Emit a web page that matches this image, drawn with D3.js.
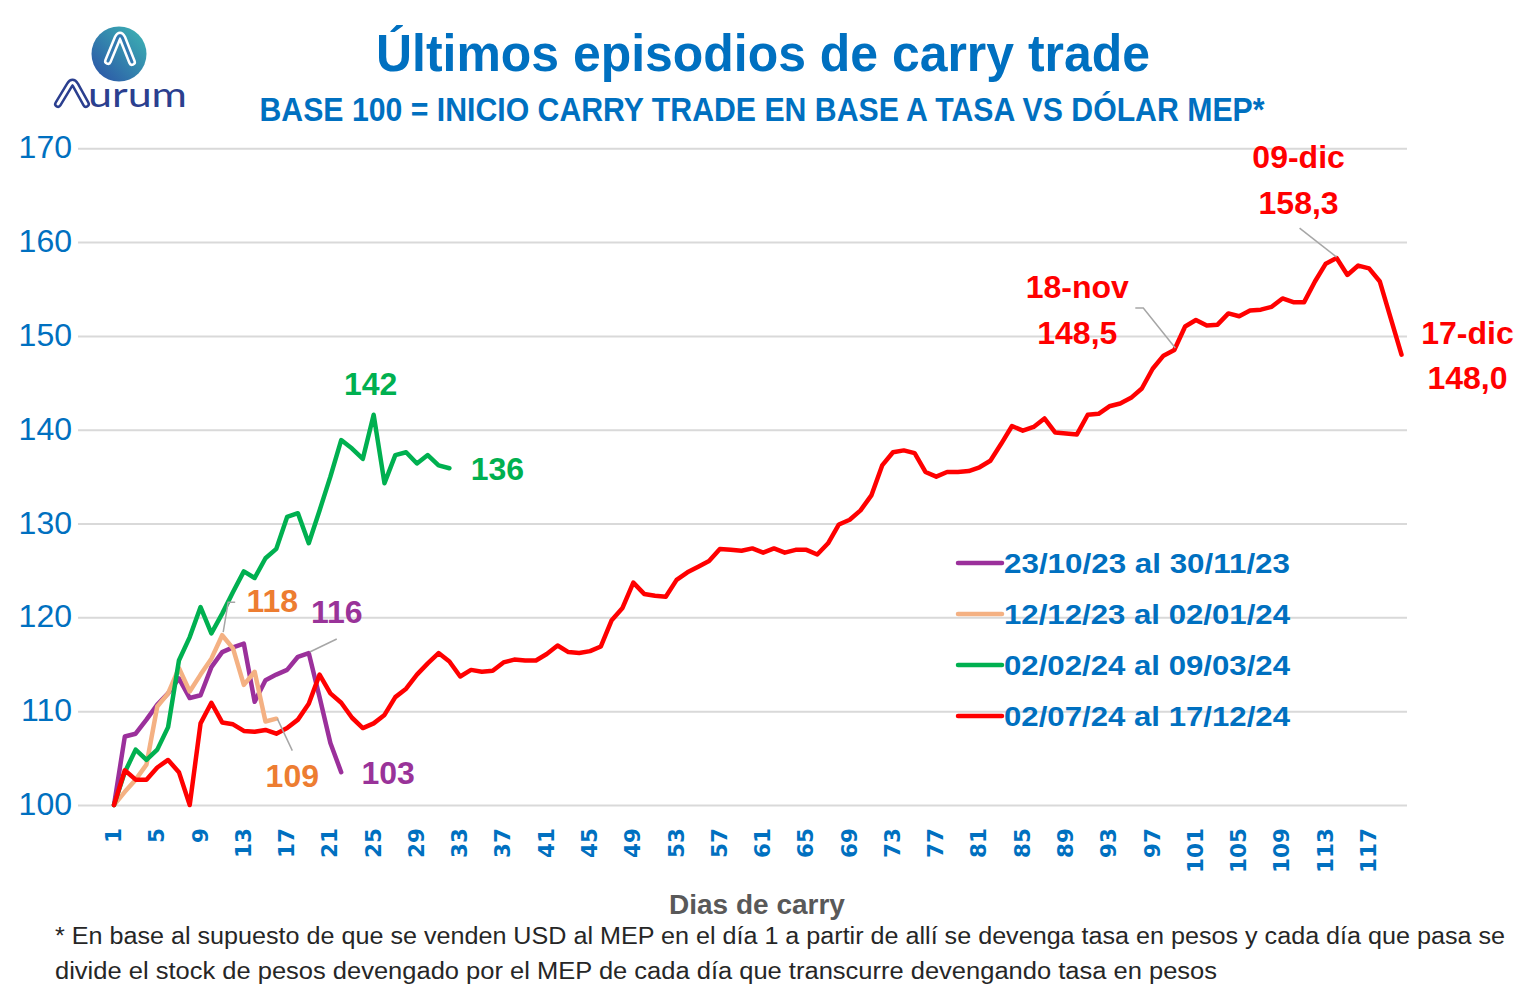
<!DOCTYPE html>
<html><head><meta charset="utf-8">
<script src="https://cdn.jsdelivr.net/npm/d3@7"></script>
<style>
body{margin:0;background:#fff}
svg{display:block}
text{font-family:"Liberation Sans",Arial,sans-serif}
</style>
</head><body>
<svg id="c" width="1526" height="999"></svg>
<script>
// ---------- DATA ----------
const seriesNames = ["23/10/23 al 30/11/23","12/12/23 al 02/01/24","02/02/24 al 09/03/24","02/07/24 al 17/12/24"];
const purpleVals = [100,107.3,107.6,109.1,110.7,111.9,113.5,111.4,111.7,114.7,116.3,116.8,117.2,111.0,113.3,113.9,114.4,115.8,116.2,111.5,106.6,103.5];
const orangeVals = [100,101.4,102.7,104.3,110.5,111.9,114.6,112.1,113.9,115.6,118.1,116.7,112.8,114.2,108.9,109.2];
const greenVals  = [100,103.5,105.9,104.8,105.9,108.3,115.4,117.9,121.1,118.3,120.4,122.7,124.9,124.2,126.3,127.3,130.7,131.1,127.9,131.4,135.0,138.9,138.0,136.9,141.6,134.3,137.3,137.6,136.4,137.3,136.2,135.9];
const redVals = [100,103.7,102.7,102.7,104.0,104.8,103.5,100.0,108.7,110.9,
  108.8,108.6,107.9,107.8,108.0,107.6,108.2,109.1,110.8,113.9,
  111.9,110.9,109.3,108.2,108.7,109.6,111.5,112.4,113.9,115.1,
  116.2,115.3,113.7,114.4,114.2,114.3,115.2,115.5,115.4,115.4,
  116.1,117.0,116.3,116.2,116.4,116.9,119.7,121.0,123.7,122.5,
  122.3,122.2,124.0,124.8,125.4,126.0,127.3,127.2,127.1,127.35,
  126.9,127.35,126.9,127.2,127.2,126.7,127.9,129.9,130.4,131.4,
  133.0,136.2,137.6,137.8,137.5,135.5,135.0,135.5,135.5,135.6,
  136.0,136.7,138.5,140.4,139.9,140.3,141.2,139.7,139.6,139.5,
  141.6,141.7,142.5,142.8,143.4,144.4,146.5,147.9,148.5,151.0,
  151.7,151.1,151.2,152.4,152.1,152.7,152.8,153.1,154.0,153.6,
  153.6,155.8,157.7,158.3,156.5,157.5,157.2,155.8,151.9,148.0];
const yTicks = [100,110,120,130,140,150,160,170];
const xTicks = [1,5,9,13,17,21,25,29,33,37,41,45,49,53,57,61,65,69,73,77,81,85,89,93,97,101,105,109,113,117];
const titleText = "Últimos episodios de carry trade";
const subtitleText = "BASE 100 = INICIO CARRY TRADE EN BASE A TASA VS DÓLAR MEP*";
const xAxisTitle = "Dias de carry";
const footLines = ["* En base al supuesto de que se venden USD al MEP en el día 1 a partir de allí se devenga tasa en pesos y cada día que pasa se",
  "divide el stock de pesos devengado por el MEP de cada día que transcurre devengando tasa en pesos"];

// annotation texts tied to data points (series index, day)
const annoTexts = [
  {s:2, day:25, lines:["142"]},
  {s:2, day:32, lines:["136"]},
  {s:1, day:11, lines:["118"]},
  {s:0, day:19, lines:["116"]},
  {s:1, day:16, lines:["109"]},
  {s:0, day:22, lines:["103"]},
  {s:3, day:99, lines:["18-nov","148,5"]},
  {s:3, day:114, lines:["09-dic","158,3"]},
  {s:3, day:120, lines:["17-dic","148,0"]}
];

// ---------- STYLE / LAYOUT ----------
const lineColors = ["#9B309B","#F4B183","#00B050","#FF0000"];
const labelColors = ["#993399","#ED7D31","#00B050","#FF0000"];
const blue = "#0070C0";
const allSeries = [purpleVals, orangeVals, greenVals, redVals];
const annoLayout = [
  {dx:-3, dy:[-31], leader:null},
  {dx:48, dy:[1], leader:null},
  {dx:50, dy:[-34], leader:[[1,-3],[6,-33],[13,-33]]},
  {dx:28, dy:[-41], leader:[[1,-1],[28,-14]]},
  {dx:16, dy:[57], leader:[[1,0],[16,32]]},
  {dx:47, dy:[1], leader:null},
  {dx:-97, dy:[-63,-17], leader:[[1,-2],[-31,-42],[-39,-42]]},
  {dx:-38, dy:[-101,-55], leader:[[0,-1],[-37,-30]]},
  {dx:66, dy:[-22,23], leader:null}
];

const svg = d3.select("#c");
const gridLeft = 78, gridRight = 1407;
const x = d3.scaleLinear().domain([1,120]).range([114,1401.5]);
const y = d3.scaleLinear().domain([100,170]).range([805,148.3]);

// ---------- LOGO ----------
const defs = svg.append("defs");
const lg = defs.append("linearGradient").attr("id","lg").attr("x1","0").attr("y1","1").attr("x2","1").attr("y2","0");
lg.append("stop").attr("offset","0%").attr("stop-color","#2A4FA6");
lg.append("stop").attr("offset","100%").attr("stop-color","#3DB8B4");
svg.append("circle").attr("cx",119).attr("cy",54).attr("r",27.5).attr("fill","url(#lg)");
const lam = "M108,61 L117.5,38 Q120,33 122.5,38 L132,62";
svg.append("path").attr("d",lam).attr("fill","none").attr("stroke","#fff").attr("stroke-width",8).attr("stroke-linecap","round").attr("stroke-linejoin","round");
svg.append("path").attr("d",lam).attr("fill","none").attr("stroke","#3178B0").attr("stroke-width",3).attr("stroke-linecap","round").attr("stroke-linejoin","round");
const lamA = "M58,104 L69.5,85 Q72.5,80 75.5,85 L86,104";
svg.append("path").attr("d",lamA).attr("fill","none").attr("stroke","#2B3F8F").attr("stroke-width",8).attr("stroke-linecap","round").attr("stroke-linejoin","round");
svg.append("path").attr("d",lamA).attr("fill","none").attr("stroke","#fff").attr("stroke-width",3).attr("stroke-linecap","round").attr("stroke-linejoin","round");
svg.append("text").attr("x",88).attr("y",107).text("urum").attr("fill","#2B3F8F")
  .style("font-family","Lato, 'Liberation Sans', sans-serif").style("font-size","34px")
  .attr("textLength",99).attr("lengthAdjust","spacingAndGlyphs");

// ---------- TITLES ----------
svg.append("text").attr("x",763).attr("y",71).attr("text-anchor","middle").text(titleText)
  .attr("fill",blue).style("font-weight","bold").style("font-size","52px")
  .attr("textLength",774).attr("lengthAdjust","spacingAndGlyphs");
svg.append("text").attr("x",762).attr("y",121).attr("text-anchor","middle").text(subtitleText)
  .attr("fill",blue).style("font-weight","bold").style("font-size","33px")
  .attr("textLength",1005).attr("lengthAdjust","spacingAndGlyphs");

// ---------- AXES ----------
const gy = svg.append("g").attr("transform",`translate(${gridLeft},0)`)
  .call(d3.axisLeft(y).tickValues(yTicks).tickSize(-(gridRight-gridLeft)).tickPadding(6).tickFormat(d3.format("d")));
gy.select(".domain").remove();
gy.selectAll(".tick line").attr("stroke","#D9D9D9").attr("stroke-width",2);
gy.selectAll(".tick text").attr("fill",blue).attr("dy","0.3em").style("font-size","32px").style("font-family","'Liberation Sans',Arial,sans-serif");

const gx = svg.append("g").attr("transform","translate(0,805)")
  .call(d3.axisBottom(x).tickValues(xTicks).tickSize(0).tickFormat(d=>String(d)));
gx.select(".domain").remove();
gx.selectAll(".tick text").attr("transform","rotate(-90)").attr("text-anchor","end")
  .attr("x",-23).attr("y",0).attr("dy","0.3em")
  .attr("fill",blue).style("font-size","21.5px").style("font-weight","bold").style("font-family","'DejaVu Sans',Verdana,sans-serif");

svg.append("text").attr("x",757).attr("y",914).attr("text-anchor","middle").text(xAxisTitle)
  .attr("fill","#595959").style("font-weight","bold").style("font-size","28px");

// ---------- LINES ----------
const line = d3.line().x((d,i)=>x(i+1)).y(d=>y(d));
allSeries.forEach((vals,k)=>{
  svg.append("path").datum(vals).attr("d",line).attr("fill","none")
    .attr("stroke",lineColors[k]).attr("stroke-width",4.5)
    .attr("stroke-linejoin","round").attr("stroke-linecap","round");
});

// ---------- ANNOTATIONS ----------
annoTexts.forEach((a,i)=>{
  const L = annoLayout[i];
  const px = x(a.day), py = y(allSeries[a.s][a.day-1]);
  if (L.leader){
    svg.append("polyline").attr("points",L.leader.map(p=>[px+p[0],py+p[1]].join(",")).join(" "))
      .attr("fill","none").attr("stroke","#A6A6A6").attr("stroke-width",1.5);
  }
  a.lines.forEach((t,j)=>{
    svg.append("text").attr("x",px+L.dx).attr("y",py+L.dy[j]).attr("dy","0.35em")
      .attr("text-anchor","middle").text(t).attr("fill",labelColors[a.s])
      .style("font-weight","bold").style("font-size","32px");
  });
});

// ---------- LEGEND ----------
const leg = svg.append("g");
seriesNames.forEach((n,i)=>{
  const yy = 563 + i*51;
  leg.append("line").attr("x1",958).attr("x2",1002).attr("y1",yy).attr("y2",yy)
    .attr("stroke",lineColors[i]).attr("stroke-width",4.5).attr("stroke-linecap","round");
  leg.append("text").attr("x",1004).attr("y",yy).attr("dy","0.35em").text(n)
    .attr("fill",blue).style("font-weight","bold").style("font-size","28px")
    .attr("textLength",286).attr("lengthAdjust","spacingAndGlyphs");
});

// ---------- FOOTNOTE ----------
svg.append("text").attr("x",55).attr("y",944).text(footLines[0]).attr("fill","#262626")
  .style("font-size","23px").attr("textLength",1450).attr("lengthAdjust","spacingAndGlyphs");
svg.append("text").attr("x",55).attr("y",979).text(footLines[1]).attr("fill","#262626")
  .style("font-size","23px").attr("textLength",1162).attr("lengthAdjust","spacingAndGlyphs");
</script>
</body></html>
